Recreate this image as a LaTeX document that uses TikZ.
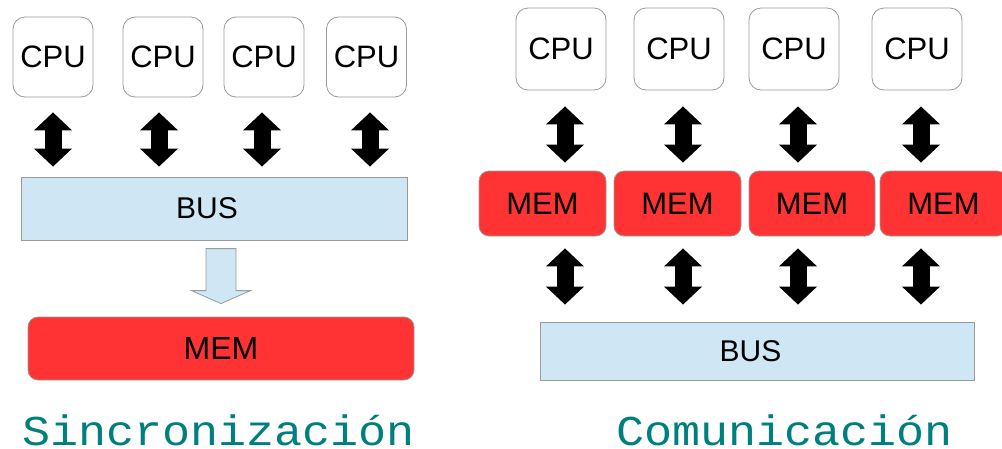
\documentclass[tikz,border=0pt]{standalone}
\usepackage{graphicx}
\usepackage{fontspec}
\setmainfont{Liberation Sans}
\newfontfamily\titlefont{Liberation Mono}
\usetikzlibrary{arrows.meta,calc}
\definecolor{busblue}{HTML}{CFE6F4}
\definecolor{memred}{HTML}{FF3333}
\definecolor{boxgrey}{HTML}{9A9A9A}
\definecolor{titleteal}{HTML}{007F7F}
\tikzset{
  cpubox/.style={draw=boxgrey, line width=0.8pt, fill=white, rounded corners=12pt, inner sep=0pt, font=\fontsize{31}{31}\selectfont},
  membox/.style={draw=boxgrey, line width=0.8pt, fill=memred, rounded corners=10pt, inner sep=0pt, font=\fontsize{31}{31}\selectfont},
  busbox/.style={draw=boxgrey, line width=0.8pt, fill=busblue, inner sep=0pt, font=\fontsize{30}{30}\selectfont},
  dblarrow/.style={draw=black, line width=17pt, {Triangle[width=37pt,length=18pt]}-{Triangle[width=37pt,length=18pt]}},
  blockarrow/.style={draw=boxgrey, line width=0.8pt, fill=busblue, line join=miter},
  title/.style={text=titleteal, font=\titlefont\fontsize{42.5}{42.5}\selectfont, anchor=base, inner sep=0pt}
}
\begin{document}
\begin{tikzpicture}[x=1pt,y=-1pt]
\useasboundingbox (0,0) rectangle (1002,448);
\clip (0,0) rectangle (1002,448);
% ---------- left: Sincronizacion ----------
\node[cpubox, minimum width=80pt, minimum height=80pt] (lc1) at (53,57) {CPU};
\node[cpubox, minimum width=80pt, minimum height=80pt] (lc2) at (163,57) {CPU};
\node[cpubox, minimum width=80pt, minimum height=80pt] (lc3) at (264,57) {CPU};
\node[cpubox, minimum width=80pt, minimum height=80pt] (lc4) at (366.5,57) {CPU};
\node[busbox, minimum width=386pt, minimum height=63pt] (lbus) at (214,208.5) {BUS\kern14pt};
\node[membox, minimum width=386pt, minimum height=63pt, font=\fontsize{32}{32}\selectfont] (lmem) at (221,348.5) {MEM};
\foreach \i/\dx in {1/0,2/-4,3/-2,4/3.5}{
  \draw[dblarrow, shorten <=15pt, shorten >=10pt]
    ([xshift=\dx pt]lc\i.south) -- ([xshift=\dx pt]lc\i.south |- lbus.north);
}
\draw[blockarrow]
  ($(lmem.north)+(-15,-68)$) -- ($(lmem.north)+(15,-68)$) -- ($(lmem.north)+(15,-26)$)
  -- ($(lmem.north)+(29.5,-26)$) -- ($(lmem.north)+(0,-13)$) -- ($(lmem.north)+(-29.5,-26)$)
  -- ($(lmem.north)+(-15,-26)$) -- cycle;
\node[title] (tsync) at (218.5,445) {\scalebox{1.1}[1]{Sincronización}};
% ---------- right: Comunicacion ----------
\node[cpubox, minimum width=90pt, minimum height=82pt] (rc1) at (561,49) {CPU};
\node[cpubox, minimum width=90pt, minimum height=82pt] (rc2) at (679,49) {CPU};
\node[cpubox, minimum width=90pt, minimum height=82pt] (rc3) at (794,49) {CPU};
\node[cpubox, minimum width=90pt, minimum height=82pt] (rc4) at (917,49) {CPU};
\node[membox, minimum width=127pt, minimum height=65pt] (rm1) at (542.5,203.5) {MEM};
\node[membox, minimum width=127pt, minimum height=65pt] (rm2) at (677.5,203.5) {MEM};
\node[membox, minimum width=126pt, minimum height=65pt] (rm3) at (812,203.5) {MEM};
\node[membox, minimum width=127pt, minimum height=65pt] (rm4) at (943.5,203.5) {MEM};
\node[busbox, minimum width=434pt, minimum height=58pt] (rbus) at (757,351) {BUS\kern13pt};
\foreach \i in {1,2,3,4}{
  \draw[dblarrow, shorten <=16pt, shorten >=8pt]
    ([xshift=4pt]rc\i.south) -- ([xshift=4pt]rc\i.south |- rm\i.north);
  \draw[dblarrow, shorten <=12pt, shorten >=17pt]
    ([xshift=4pt]rc\i.south |- rm\i.south) -- ([xshift=4pt]rc\i.south |- rbus.north);
}
\node[title] (tcomm) at (784.5,445) {\scalebox{1.1}[1]{Comunicación}};
\end{tikzpicture}
\end{document}
